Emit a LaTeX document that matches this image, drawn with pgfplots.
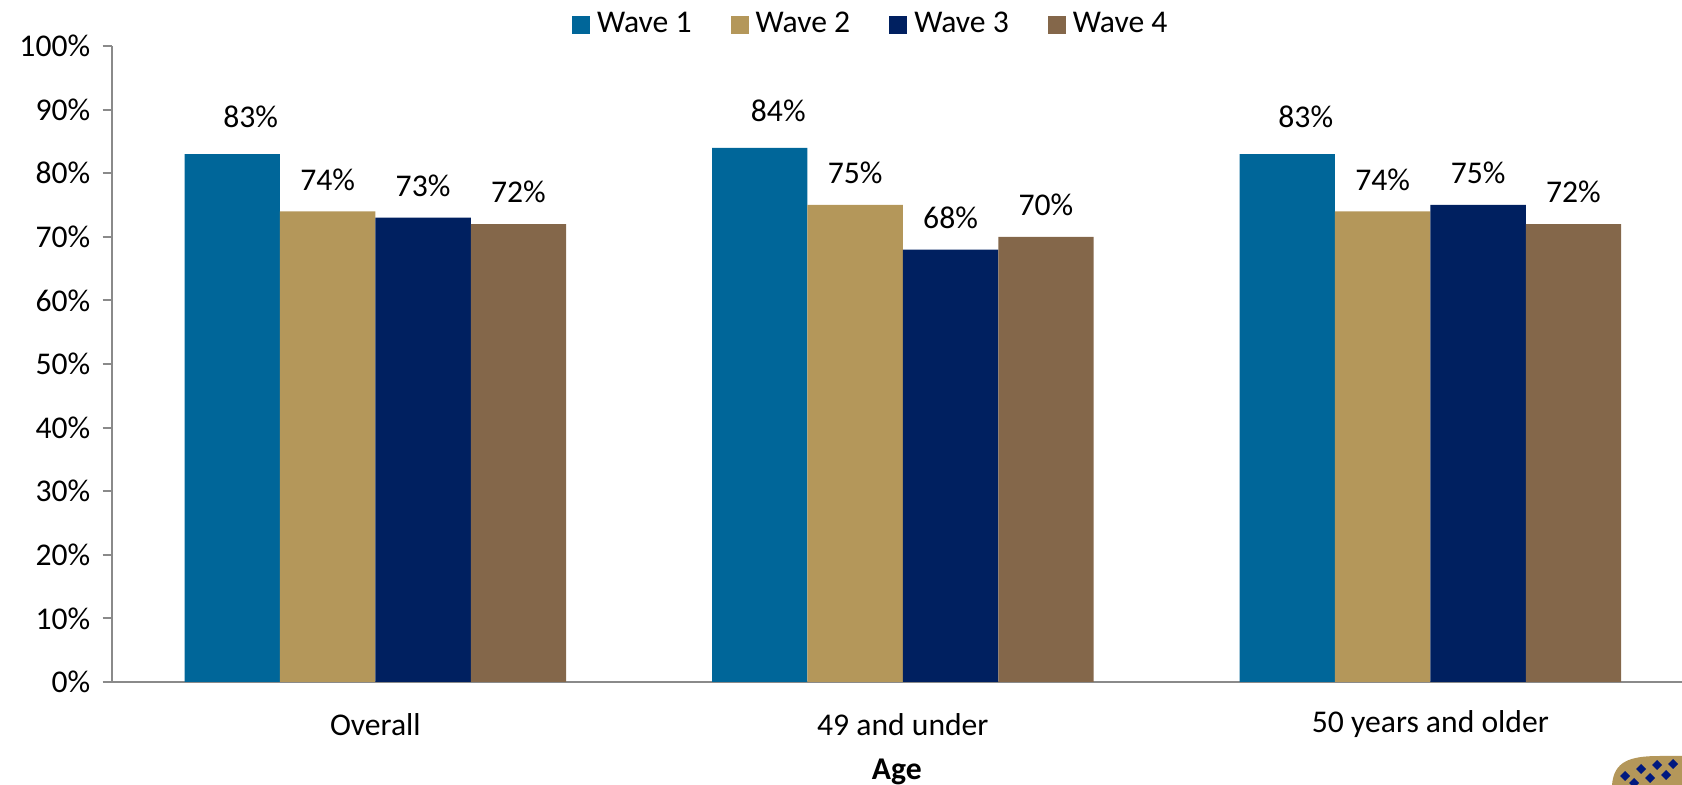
\documentclass[border=0pt]{standalone}
\usepackage{pgfplots}
\pgfplotsset{compat=1.18}
\usepackage{fontspec}
\setmainfont{Carlito}

\definecolor{waveA}{HTML}{006699}
\definecolor{waveB}{HTML}{B4975A}
\definecolor{waveC}{HTML}{002060}
\definecolor{waveD}{HTML}{84674A}
\definecolor{axisgray}{HTML}{8A8A8A}

\newcommand{\chartfont}{\fontsize{9}{11}\selectfont}

\begin{document}
\begin{tikzpicture}
\useasboundingbox (0,0) rectangle (168.2mm,78.5mm);
\begin{axis}[
  at={(11.16mm,10.3mm)}, anchor=south west,
  scale only axis, width=157.04mm, height=63.6mm,
  xmin=-0.5, xmax=2.477, ymin=0, ymax=100,
  ybar=0pt, bar width=9.54mm,
  axis x line*=bottom, axis y line*=left,
  axis line style={-, axisgray, line width=0.55pt},
  tick align=outside,
  major tick length=0.9mm, minor tick length=0.9mm,
  tick style={axisgray, line width=0.55pt},
  ytick={0,10,...,100},
  yticklabel={\pgfmathprintnumber{\tick}\%},
  xtick={0,1,2},
  xticklabels={Overall,49 and under,50 years and older},
  xtick style={draw=none},
  minor xtick={-0.5,0.5,1.5},
  /pgf/number format/assume math mode=true,
  tick label style={font=\chartfont},
  xticklabel style={anchor=center, yshift=-3.35mm},
  xlabel={\textbf{Age}},
  xlabel style={font=\chartfont, at={(axis description cs:0.5,0)}, anchor=center, yshift=-9.0mm},
  nodes near coords={\pgfmathprintnumber{\pgfplotspointmeta}\%},
  every node near coord/.append style={font=\chartfont, black},
  legend columns=4,
  legend style={at={(axis description cs:0.485,1.033)}, anchor=center,
    draw=none, fill=none, font=\chartfont,
    /tikz/every even column/.append style={column sep=3.2mm}},
  legend cell align=left,
  legend image code/.code={\fill[#1] (0mm,-0.9mm) rectangle (1.8mm,0.9mm);},
]
\addplot[fill=waveA, draw=none, every node near coord/.append style={xshift=1.85mm, yshift=1.37mm}]
  coordinates {(0,83) (1,84) (2,83)};
\addplot[fill=waveB, draw=none, every node near coord/.append style={yshift=0.85mm}]
  coordinates {(0,74) (1,75) (2,74)};
\addplot[fill=waveC, draw=none, every node near coord/.append style={yshift=0.85mm}]
  coordinates {(0,73) (1,68) (2,75)};
\addplot[fill=waveD, draw=none, every node near coord/.append style={yshift=0.85mm}]
  coordinates {(0,72) (1,70) (2,72)};
\legend{Wave 1,Wave 2,Wave 3,Wave 4}
\end{axis}
% corner emblem, partly outside the page
\begin{scope}
  \clip (0,0) rectangle (168.2mm,78.5mm);
  \fill[waveB] (161.2mm,0mm) .. controls (161.4mm,2.4mm) and (163mm,2.9mm) .. (166mm,2.9mm)
     -- (169mm,2.9mm) -- (169mm,0mm) -- cycle;
  \foreach \x/\y in {162.5/0.9,164.1/1.6,165.7/2.0,167.3/2.1,163.4/0.2,165.0/0.7,166.6/1.0} {
    \fill[waveC!80!blue] (\x mm,\y mm) ++(0,0.5mm) -- ++(0.5mm,-0.5mm) -- ++(-0.5mm,-0.5mm) -- ++(-0.5mm,0.5mm) -- cycle;
  }
\end{scope}
\end{tikzpicture}
\end{document}
